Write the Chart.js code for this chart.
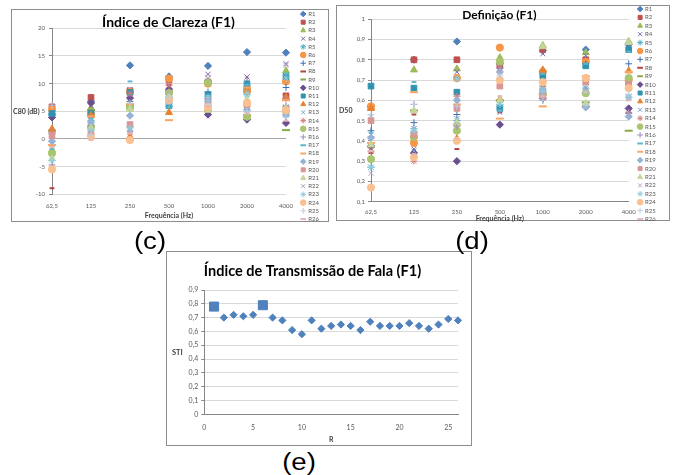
<!DOCTYPE html>
<html>
<head>
<meta charset="utf-8">
<script src="https://cdn.jsdelivr.net/npm/chart.js@4.4.1/dist/chart.umd.min.js"></script>
<style>
    body { margin: 0; background: #fff; width: 680px; height: 475px; position: relative; overflow: hidden; }
    .frame { position: absolute; border: 1px solid #8e8e8e; box-sizing: border-box; }
    .wrap { position: absolute; }
    .tag { position: absolute; font-family: "Liberation Sans", Arial, sans-serif; font-size: 23px; color: #000;
           transform: translate(-50%, -50%) scaleX(1.2); line-height: 1; }
</style>
</head>
<body>
<div class="frame" style="left:11px;top:9px;width:318px;height:213px"></div>
<div class="frame" style="left:336px;top:5px;width:334px;height:216px"></div>
<div class="frame" style="left:166px;top:251px;width:306px;height:195px"></div>

<div class="wrap" style="left:12px;top:4px;width:316px;height:226px"><canvas id="c80"></canvas></div>
<div class="wrap" style="left:337px;top:0px;width:332px;height:232px"><canvas id="d50"></canvas></div>
<div class="wrap" style="left:167px;top:252px;width:304px;height:193px"><canvas id="sti"></canvas></div>

<div class="tag" style="left:150px;top:241px">(c)</div>
<div class="tag" style="left:472px;top:241px">(d)</div>
<div class="tag" style="left:299px;top:462px">(e)</div>

<script>
const freqs = ["62,5", "125", "250", "500", "1000", "2000", "4000"];
const rooms = ["R1", "R2", "R3", "R4", "R5", "R6", "R7", "R8", "R9", "R10", "R11", "R12", "R13",
    "R14", "R15", "R16", "R17", "R18", "R19", "R20", "R21", "R22", "R23", "R24", "R25", "R26"];

// C80 (dB) per room, one value per frequency band
const c80 = [
    [4.5, 6.8, 13.3, 11.3, 13.2, 15.7, 15.6],
    [5.8, 7.5, 8.7, 10.7, 10.3, 9.0, 7.8],
    [-2.0, 5.6, 5.8, 8.9, 10.5, 9.5, 12.3],
    [5.0, 6.0, 8.9, 9.5, 11.7, 11.2, 13.6],
    [4.2, 3.3, 2.2, 5.9, 7.2, 8.0, 5.8],
    [5.3, 4.4, 8.5, 10.9, 10.0, 8.7, 10.4],
    [1.0, 4.8, 6.8, 8.0, 8.5, 9.2, 9.3],
    [-8.9, 2.6, 1.0, 9.8, 6.5, 5.8, 7.7],
    [1.5, 5.2, 6.0, 8.6, 10.4, 4.3, 1.6],
    [3.9, 6.5, 7.4, 9.0, 4.4, 3.5, 2.9],
    [4.6, 4.6, 8.4, 6.0, 8.0, 10.0, 11.3],
    [1.8, 4.3, 0.4, 4.8, 5.5, 8.8, 7.5],
    [-1.0, 3.8, 1.8, 6.6, 11.0, 5.5, 4.8],
    [1.2, 0.8, 8.2, 9.7, 7.3, 6.0, 7.3],
    [-2.6, 2.2, 5.6, 8.3, 10.2, 4.0, 5.0],
    [-4.7, 2.4, 1.4, 7.7, 7.0, 4.9, 6.0],
    [-1.8, 3.6, 10.4, 5.7, 7.8, 9.8, 11.8],
    [-1.1, 4.1, 6.3, 3.4, 5.0, 9.3, 7.0],
    [-0.4, 3.0, 4.2, 7.3, 6.7, 5.3, 4.3],
    [0.6, 1.0, 2.6, 7.2, 6.0, 6.2, 5.4],
    [-3.6, 2.0, 5.4, 7.8, 5.2, 7.1, 5.5],
    [-5.0, 1.3, 1.2, 8.4, 11.0, 10.8, 13.3],
    [-3.9, 1.6, 2.0, 6.5, 7.5, 8.3, 11.0],
    [-5.5, 0.3, -0.2, 7.0, 5.8, 6.5, 5.2],
    [6.1, 0.6, 6.5, 7.5, 6.3, 5.0, 3.9],
    [-1.5, 0.0, 1.0, 6.8, 5.9, 4.6, 3.3]
];

// D50 per room
const d50 = [
    [0.57, 0.80, 0.89, 0.78, 0.845, 0.85, 0.875],
    [0.565, 0.80, 0.80, 0.77, 0.85, 0.80, 0.69],
    [0.38, 0.75, 0.755, 0.81, 0.87, 0.835, 0.89],
    [0.36, 0.36, 0.74, 0.75, 0.83, 0.82, 0.86],
    [0.27, 0.46, 0.50, 0.58, 0.66, 0.66, 0.615],
    [0.57, 0.39, 0.71, 0.86, 0.74, 0.79, 0.70],
    [0.45, 0.49, 0.53, 0.57, 0.60, 0.78, 0.78],
    [0.34, 0.53, 0.36, 0.54, 0.61, 0.65, 0.69],
    [0.37, 0.55, 0.48, 0.60, 0.63, 0.59, 0.45],
    [0.375, 0.34, 0.30, 0.48, 0.61, 0.57, 0.56],
    [0.67, 0.66, 0.64, 0.56, 0.72, 0.77, 0.85],
    [0.56, 0.42, 0.41, 0.605, 0.75, 0.71, 0.745],
    [0.52, 0.35, 0.51, 0.54, 0.68, 0.66, 0.61],
    [0.35, 0.30, 0.62, 0.76, 0.67, 0.57, 0.535],
    [0.31, 0.42, 0.45, 0.79, 0.63, 0.635, 0.71],
    [0.42, 0.58, 0.47, 0.76, 0.64, 0.58, 0.54],
    [0.44, 0.69, 0.71, 0.55, 0.73, 0.78, 0.84],
    [0.39, 0.64, 0.58, 0.51, 0.57, 0.72, 0.74],
    [0.415, 0.44, 0.60, 0.74, 0.65, 0.565, 0.52],
    [0.50, 0.43, 0.56, 0.67, 0.62, 0.69, 0.68],
    [0.38, 0.55, 0.49, 0.60, 0.865, 0.585, 0.885],
    [0.24, 0.46, 0.48, 0.74, 0.64, 0.65, 0.62],
    [0.27, 0.45, 0.705, 0.58, 0.645, 0.64, 0.615],
    [0.17, 0.32, 0.40, 0.70, 0.69, 0.71, 0.66],
    [0.53, 0.58, 0.57, 0.72, 0.60, 0.58, 0.63],
    [0.35, 0.33, 0.41, 0.62, 0.62, 0.64, 0.60]
];

// STI per room
const stiRooms = [1, 2, 3, 4, 5, 6, 7, 8, 9, 10, 11, 12, 13, 14, 15, 16, 17, 18, 19, 20, 21, 22, 23, 24, 25, 26];
const sti = [0.78, 0.70, 0.72, 0.71, 0.72, 0.79, 0.70, 0.68, 0.61, 0.58, 0.68, 0.62, 0.64,
    0.65, 0.64, 0.61, 0.67, 0.64, 0.64, 0.64, 0.66, 0.64, 0.62, 0.65, 0.69, 0.68];
const stiSquares = [1, 6];

const colors = [
    "#4F81BD", "#C0504D", "#9BBB59", "#8064A2", "#4BACC6", "#F79646",
    "#3F6FAE", "#B04542", "#89A84A", "#6A4F8E", "#2F93B0", "#E8822F",
    "#7BA0CD", "#D07E7C", "#A9C56D", "#9F8AB9", "#5DB7CE", "#F8A565",
    "#95B3D7", "#D99694", "#C3D69B", "#B3A2C7", "#93CDDD", "#FAC090",
    "#B9CDE5", "#E6B9B8"
];

// excel marker cycle
const markers = [
    { style: "rectRot", r: 3.6, w: 1 },
    { style: "rect", r: 4, w: 1 },
    { style: "triangle", r: 4, w: 1 },
    { style: "crossRot", r: 3.6, w: 1 },
    { style: "star", r: 3.6, w: 1 },
    { style: "circle", r: 3.6, w: 1 },
    { style: "cross", r: 3.4, w: 1 },
    { style: "line", r: 2.4, w: 2 },
    { style: "line", r: 4, w: 2 }
];

Chart.defaults.font.family = "Lato";
Chart.defaults.color = "#595959";

const sideTitle = {
    id: "sideTitle",
    afterDraw(chart, args, opts) {
        const ctx = chart.ctx;
        const area = chart.chartArea;
        ctx.save();
        ctx.font = "bold " + opts.size + "px Lato";
        ctx.fillStyle = "#404040";
        ctx.textBaseline = "middle";
        ctx.fillText(opts.text, opts.x, (area.top + area.bottom) / 2);
        ctx.restore();
    }
};

function fmt(v) {
    return String(Math.round(v * 10) / 10).replace(".", ",");
}

function makeSets(values) {
    return rooms.map((name, i) => {
        const m = markers[i % markers.length];
        return {
            label: name,
            data: values[i],
            showLine: false,
            clip: false,
            pointStyle: m.style,
            pointRadius: m.r,
            pointHoverRadius: m.r,
            borderWidth: m.w,
            backgroundColor: colors[i],
            borderColor: colors[i],
            order: rooms.length - i
        };
    });
}

function freqChart(id, values, opt) {
    new Chart(document.getElementById(id), {
        type: "line",
        data: { labels: freqs, datasets: makeSets(values) },
        plugins: [sideTitle],
        options: {
            responsive: true,
            maintainAspectRatio: false,
            animation: false,
            layout: { padding: opt.pad },
            plugins: {
                tooltip: { enabled: false },
                title: {
                    display: true,
                    text: opt.title,
                    color: "#000",
                    font: { size: opt.titleSize, weight: "bold", lineHeight: opt.titleLh },
                    padding: { top: opt.titleTop, bottom: 0 }
                },
                legend: {
                    position: "right",
                    align: "start",
                    maxWidth: 26,
                    labels: {
                        usePointStyle: true,
                        boxWidth: 4,
                        boxHeight: 4,
                        padding: opt.legendPad,
                        font: { size: 6 },
                        color: "#595959",
                        sort: (a, b) => a.datasetIndex - b.datasetIndex
                    }
                },
                sideTitle: { text: opt.yTitle, x: opt.yTitleX, size: 7 }
            },
            scales: {
                x: {
                    offset: false,
                    grid: { display: false, drawTicks: false },
                    border: { display: opt.xBorder, color: "#868686" },
                    ticks: { font: { size: 6 }, padding: opt.xTickPad, maxRotation: 0, autoSkip: false },
                    title: {
                        display: true,
                        text: "Frequência (Hz)",
                        color: "#404040",
                        font: { size: 7, weight: "bold" },
                        padding: { top: 0, bottom: 6 }
                    },
                    afterFit(s) { s.height = opt.xHeight; }
                },
                y: {
                    min: opt.min,
                    max: opt.max,
                    ticks: { stepSize: opt.step, font: { size: 6 }, padding: opt.yTickPad, callback: fmt },
                    grid: {
                        color: c => (c.tick && c.tick.value === 0 ? "#A6A6A6" : "#D9D9D9"),
                        tickLength: 3,
                        tickColor: "#868686"
                    },
                    border: { color: "#868686" },
                    afterFit(s) { s.width = opt.yWidth; }
                },
                gap: {
                    type: "linear",
                    position: "right",
                    display: true,
                    grid: { display: false, drawTicks: false },
                    border: { display: false },
                    ticks: { display: false },
                    afterFit(s) { s.width = opt.gap; }
                }
            }
        }
    });
}

freqChart("c80", c80, {
    title: "Índice de Clareza (F1)", titleSize: 14, titleLh: 0.8, titleTop: 8.3,
    pad: { top: 4.8, right: 3, bottom: 3.8, left: 0 },
    legendPad: 2.2, gap: 13, yWidth: 40, yTickPad: 4, xHeight: 31.9, xTickPad: 8, xBorder: false,
    min: -10, max: 20, step: 5, yTitle: "C80 (dB)", yTitleX: 1
});

freqChart("d50", d50, {
    title: "Definição (F1)", titleSize: 12, titleLh: 0.7, titleTop: 7.2,
    pad: { top: 3.6, right: 7.3, bottom: 3.5, left: 0 },
    legendPad: 2.4, gap: 7, yWidth: 34, yTickPad: 3, xHeight: 26.8, xTickPad: 6.3, xBorder: true,
    min: 0.1, max: 1, step: 0.1, yTitle: "D50", yTitleX: 2
});

new Chart(document.getElementById("sti"), {
    type: "scatter",
    data: {
        datasets: [{
            label: "STI",
            data: stiRooms.map((r, i) => ({ x: r, y: sti[i] })),
            clip: false,
            pointStyle: c => (stiSquares.includes(stiRooms[c.dataIndex]) ? "rect" : "rectRot"),
            pointRadius: c => (stiSquares.includes(stiRooms[c.dataIndex]) ? 6.4 : 3.6),
            pointHoverRadius: c => (stiSquares.includes(stiRooms[c.dataIndex]) ? 6.4 : 3.6),
            backgroundColor: "#4F81BD",
            borderColor: "#4F81BD",
            borderWidth: 1
        }]
    },
    plugins: [sideTitle],
    options: {
        responsive: true,
        maintainAspectRatio: false,
        animation: false,
        layout: { padding: { top: 0, right: 13, bottom: 0.8, left: 0 } },
        plugins: {
            tooltip: { enabled: false },
            legend: { display: false },
            title: {
                display: true,
                text: "Índice de Transmissão de Fala (F1)",
                color: "#000",
                font: { size: 14.5, weight: "bold", lineHeight: 1.2 },
                padding: { top: 10.3, bottom: 10.3 }
            },
            sideTitle: { text: "STI", x: 5, size: 7.5 }
        },
        scales: {
            x: {
                min: 0,
                max: 26,
                grid: { display: false, drawTicks: false },
                border: { color: "#868686" },
                ticks: { stepSize: 5, includeBounds: false, font: { size: 7 }, padding: 9.2 },
                title: {
                    display: true,
                    text: "R",
                    color: "#404040",
                    font: { size: 7, weight: "bold" },
                    padding: 0
                },
                afterFit(s) { s.height = 29.9; }
            },
            y: {
                min: 0,
                max: 0.9,
                ticks: { stepSize: 0.1, font: { size: 7 }, padding: 3, callback: fmt },
                grid: { color: "#D9D9D9", tickLength: 3, tickColor: "#868686" },
                border: { color: "#868686" },
                afterFit(s) { s.width = 37.3; }
            }
        }
    }
});
</script>
</body>
</html>
